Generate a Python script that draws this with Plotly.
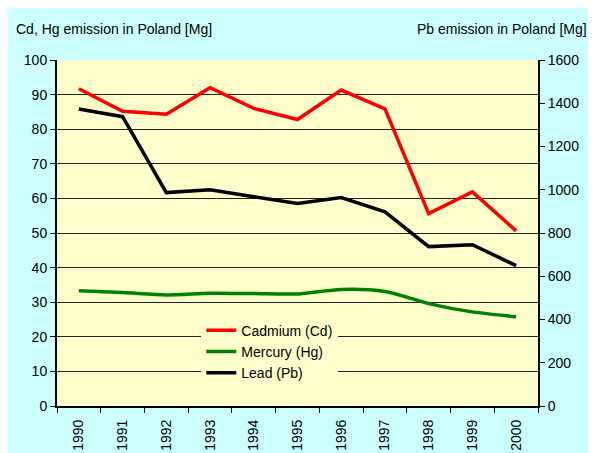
import plotly.graph_objects as go

years = ["1990", "1991", "1992", "1993", "1994", "1995", "1996", "1997", "1998", "1999", "2000"]
cadmium = [91.7, 85.2, 84.3, 92.0, 86.0, 82.8, 91.3, 85.9, 55.6, 61.9, 50.6]
mercury = [33.3, 32.8, 32.1, 32.6, 32.5, 32.4, 33.7, 33.1, 29.6, 27.2, 25.8]
lead = [1373, 1338, 987, 1000, 968, 937, 964, 898, 737, 746, 649]

left_title = "Cd, Hg emission in Poland [Mg]"
right_title = "Pb emission in Poland [Mg]"

FONT = "Arial, Liberation Sans, sans-serif"

fig = go.Figure()
fig.add_trace(go.Scatter(x=years, y=cadmium, name="Cadmium (Cd)", mode="lines",
                         line=dict(color="#ff0000", width=3.5), yaxis="y"))
fig.add_trace(go.Scatter(x=years, y=mercury, name="Mercury (Hg)", mode="lines",
                         line=dict(color="#008000", width=3.5, shape="spline", smoothing=0.8), yaxis="y"))
fig.add_trace(go.Scatter(x=years, y=lead, name="Lead (Pb)", mode="lines",
                         line=dict(color="#000000", width=3.5), yaxis="y2"))

fig.update_layout(
    width=588, height=445,
    margin=dict(l=49, r=58, t=52, b=47),
    paper_bgcolor="#ccffff",
    plot_bgcolor="#ffffcc",
    font=dict(family=FONT, size=14, color="#000000"),
    showlegend=True,
    legend=dict(x=0.30, y=0.264, xanchor="left", yanchor="top",
                bgcolor="#ffffcc", borderwidth=0, font=dict(size=14),
                tracegroupgap=0),
    xaxis=dict(type="category", range=[-0.5, 10.5], tickson="boundaries", ticks="outside", ticklen=5,
               tickcolor="#000", tickangle=-90, showline=True, linecolor="#000",
               linewidth=2, showgrid=False, ticklabelstandoff=6, automargin=False),
    yaxis=dict(range=[0, 100], dtick=10, ticks="outside", ticklen=5, tickcolor="#000",
               showline=True, linecolor="#000", linewidth=2, showgrid=True,
               gridcolor="#222222", gridwidth=1, zeroline=False, automargin=False),
    yaxis2=dict(range=[0, 1600], dtick=200, ticks="outside", ticklen=5, tickcolor="#000",
                overlaying="y", side="right", showline=True, linecolor="#000",
                linewidth=2, showgrid=False, zeroline=False, automargin=False),
    annotations=[
        dict(text=left_title, xref="paper", yref="paper", x=-0.0894, y=1.0896,
             xanchor="left", yanchor="middle", showarrow=False, font=dict(size=14)),
        dict(text=right_title, xref="paper", yref="paper", x=1.106, y=1.0896,
             xanchor="right", yanchor="middle", showarrow=False, font=dict(size=14)),
    ],
)

fig.write_html("out.html")
